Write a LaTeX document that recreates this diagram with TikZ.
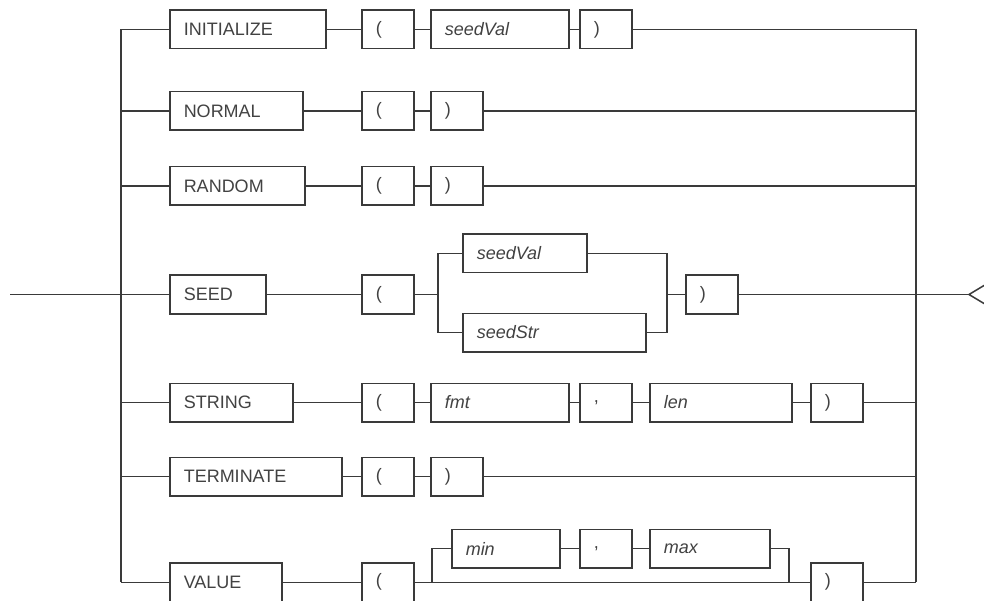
\documentclass[tikz,border=0pt]{standalone}
\usepackage{fontspec}
\setmainfont{Liberation Sans}
\definecolor{lc}{RGB}{58,58,58}
\definecolor{tc}{RGB}{66,66,66}
\begin{document}
\begin{tikzpicture}[x=1pt,y=-1pt,
  tbox/.style={draw=lc, line width=1.5pt, minimum height=38.5pt, inner xsep=14pt, inner ysep=0pt,
    anchor=west, text=tc, font=\fontsize{18}{20}\selectfont, align=left},
  wire/.style={draw=lc, line width=1.5pt}]
\useasboundingbox (0,0) rectangle (984,601);
\fill[white] (0,0) rectangle (984,601);
\clip (0,0) rectangle (984,601);
% row 1
\node[tbox, text width=128pt] (init) at (169,29.5) {INITIALIZE};
\node[tbox, text width=24pt] (lp1) at (361,29.5) {(};
\node[tbox, text width=110pt] (sv1) at (430,29.5) {\itshape seedVal};
\node[tbox, text width=24pt] (rp1) at (579,29.5) {)};
% row 2
\node[tbox, text width=105pt] (norm) at (169,111) {NORMAL};
\node[tbox, text width=24pt] (lp2) at (361,111) {(};
\node[tbox, text width=24pt] (rp2) at (430,111) {)};
% row 3
\node[tbox, text width=107pt] (rand) at (169,186) {RANDOM};
\node[tbox, text width=24pt] (lp3) at (361,186) {(};
\node[tbox, text width=24pt] (rp3) at (430,186) {)};
% row 4
\node[tbox, text width=68pt] (seed) at (169,294.5) {SEED};
\node[tbox, text width=24pt] (lp4) at (361,294.5) {(};
\node[tbox, text width=96pt] (sv4) at (462,253.5) {\itshape seedVal};
\node[tbox, text width=155pt] (ss4) at (462,332.5) {\itshape seedStr};
\node[tbox, text width=24pt] (rp4) at (685,294.5) {)};
% row 5
\node[tbox, text width=95pt] (str) at (169,402.5) {STRING};
\node[tbox, text width=24pt] (lp5) at (361,402.5) {(};
\node[tbox, text width=110pt] (fmt) at (430,402.5) {\itshape fmt};
\node[tbox, text width=24pt] (cm5) at (579,402.5) {,};
\node[tbox, text width=114pt] (len) at (649,402.5) {\itshape len};
\node[tbox, text width=24pt] (rp5) at (810,402.5) {)};
% row 6
\node[tbox, text width=144pt] (term) at (169,476.5) {TERMINATE};
\node[tbox, text width=24pt] (lp6) at (361,476.5) {(};
\node[tbox, text width=24pt] (rp6) at (430,476.5) {)};
% row 7
\node[tbox, text width=84pt] (val) at (169,582.3) {VALUE};
\node[tbox, text width=24pt] (lp7) at (361,582.3) {(};
\node[tbox, text width=80pt] (min) at (451,548.5) {\itshape min};
\node[tbox, text width=24pt] (cm7) at (579,548.5) {,};
\node[tbox, text width=92pt] (max) at (649,548.5) {\itshape max};
\node[tbox, text width=24pt] (rp7) at (810,582.3) {)};
% coordinates
\coordinate (start) at (10,294.5);
\coordinate (L1) at (121,29.5);
\coordinate (L2) at (121,111);
\coordinate (L3) at (121,186);
\coordinate (L4) at (121,294.5);
\coordinate (L5) at (121,402.5);
\coordinate (L6) at (121,476.5);
\coordinate (L7) at (121,582.3);
\coordinate (R1) at (916,29.5);
\coordinate (R2) at (916,111);
\coordinate (R3) at (916,186);
\coordinate (R4) at (916,294.5);
\coordinate (R5) at (916,402.5);
\coordinate (R6) at (916,476.5);
\coordinate (R7) at (916,582.3);
\coordinate (sA) at (438,294.5);
\coordinate (sB) at (667,294.5);
\coordinate (vA) at (432,582.3);
\coordinate (vB) at (789,582.3);
\coordinate (endp) at (969,294.5);
\coordinate (endu) at (999,276.5);
\coordinate (endd) at (999,312.5);
% bars
\draw[wire] (L1) -- (L7);
\draw[wire] (R1) -- (R7);
\draw[wire] (start) -- (L4);
% row 1
\draw[wire] (L1) -- (init.west);
\draw[wire] (init.east) -- (lp1.west);
\draw[wire] (lp1.east) -- (sv1.west);
\draw[wire] (sv1.east) -- (rp1.west);
\draw[wire] (rp1.east) -- (R1);
% row 2
\draw[wire] (L2) -- (norm.west);
\draw[wire] (norm.east) -- (lp2.west);
\draw[wire] (lp2.east) -- (rp2.west);
\draw[wire] (rp2.east) -- (R2);
% row 3
\draw[wire] (L3) -- (rand.west);
\draw[wire] (rand.east) -- (lp3.west);
\draw[wire] (lp3.east) -- (rp3.west);
\draw[wire] (rp3.east) -- (R3);
% row 4
\draw[wire] (L4) -- (seed.west);
\draw[wire] (seed.east) -- (lp4.west);
\draw[wire] (lp4.east) -- (sA);
\draw[wire] (sv4.west) -| (sA) |- (ss4.west);
\draw[wire] (sv4.east) -| (sB) |- (ss4.east);
\draw[wire] (sB) -- (rp4.west);
\draw[wire] (rp4.east) -- (endp);
\draw[wire] (endu) -- (endp) -- (endd);
% row 5
\draw[wire] (L5) -- (str.west);
\draw[wire] (str.east) -- (lp5.west);
\draw[wire] (lp5.east) -- (fmt.west);
\draw[wire] (fmt.east) -- (cm5.west);
\draw[wire] (cm5.east) -- (len.west);
\draw[wire] (len.east) -- (rp5.west);
\draw[wire] (rp5.east) -- (R5);
% row 6
\draw[wire] (L6) -- (term.west);
\draw[wire] (term.east) -- (lp6.west);
\draw[wire] (lp6.east) -- (rp6.west);
\draw[wire] (rp6.east) -- (R6);
% row 7
\draw[wire] (L7) -- (val.west);
\draw[wire] (val.east) -- (lp7.west);
\draw[wire] (lp7.east) -- (vA);
\draw[wire] (vA) -- (rp7.west);
\draw[wire] (vA) |- (min.west);
\draw[wire] (min.east) -- (cm7.west);
\draw[wire] (cm7.east) -- (max.west);
\draw[wire] (max.east) -| (vB);
\draw[wire] (rp7.east) -- (R7);
\end{tikzpicture}
\end{document}
